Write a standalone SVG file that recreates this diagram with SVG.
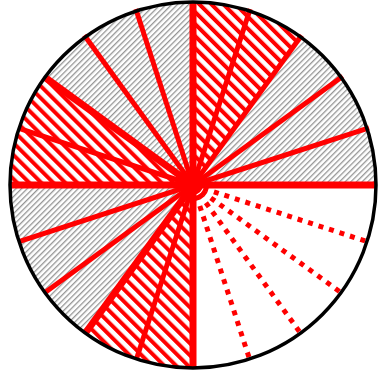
<svg xmlns="http://www.w3.org/2000/svg" width="379" height="377" viewBox="0 0 379 377">
  <defs>
    <pattern id="redHatch" patternUnits="userSpaceOnUse" width="8.5" height="10" patternTransform="rotate(-45)">
      <rect x="0" y="0" width="4" height="10" fill="#ff0000"/>
    </pattern>
    <pattern id="grayHatch" patternUnits="userSpaceOnUse" width="4" height="10" patternTransform="rotate(45)">
      <rect x="0" y="0" width="1.3" height="10" fill="#959595"/>
    </pattern>
  </defs>
  <style>
    .ray { stroke: #ff0000; stroke-width: 5; fill: none; }
    .thick { stroke-width: 7; }
    .dot { stroke: #ff0000; stroke-width: 5; stroke-dasharray: 5 6; fill: none; }
  </style>
  <rect width="379" height="377" fill="#ffffff"/>
  <g id="sectors">
    <path d="M193,185 L376,185 A183,183 0 0 0 300.57,36.95 Z" fill="url(#grayHatch)"/>
    <path d="M193,185 L300.57,36.95 A183,183 0 0 0 193,2 Z" fill="url(#redHatch)"/>
    <path d="M193,185 L193,2 A183,183 0 0 0 44.95,77.43 Z" fill="url(#grayHatch)"/>
    <path d="M193,185 L44.95,77.43 A183,183 0 0 0 10,185 Z" fill="url(#redHatch)"/>
    <path d="M193,185 L10,185 A183,183 0 0 0 85.43,333.05 Z" fill="url(#grayHatch)"/>
    <path d="M193,185 L85.43,333.05 A183,183 0 0 0 193,368 Z" fill="url(#redHatch)"/>
  </g>
  <g id="connectors">
    <line class="ray" x1="193" y1="185" x2="369.0" y2="127.8"/>
    <line class="ray" x1="193" y1="185" x2="342.7" y2="76.2"/>
    <line class="ray" x1="193" y1="185" x2="301.7" y2="35.3"/>
    <line class="ray" x1="193" y1="185" x2="250.2" y2="9.0"/>
    <line class="ray" x1="193" y1="185" x2="135.8" y2="9.0"/>
    <line class="ray" x1="193" y1="185" x2="84.3" y2="35.3"/>
    <line class="ray thick" x1="193" y1="185" x2="44.95" y2="77.43"/>
    <line class="ray" x1="193" y1="185" x2="18.96" y2="128.45"/>
    <line class="ray" x1="193" y1="185" x2="18.96" y2="241.55"/>
    <line class="ray" x1="193" y1="185" x2="44.95" y2="292.57"/>
    <line class="ray thick" x1="193" y1="185" x2="85.43" y2="333.05"/>
    <line class="ray" x1="193" y1="185" x2="136.45" y2="359.04"/>
    <line class="dot" x1="193" y1="185" x2="250.2" y2="361.0"/>
    <line class="dot" x1="193" y1="185" x2="301.7" y2="334.7"/>
    <line class="dot" x1="193" y1="185" x2="342.7" y2="293.8"/>
    <line class="dot" x1="193" y1="185" x2="369.0" y2="242.2"/>
    <line class="ray thick" x1="193" y1="185" x2="377" y2="185"/>
    <line class="ray thick" x1="193" y1="185" x2="9" y2="185"/>
    <line class="ray thick" x1="193" y1="185" x2="193" y2="2"/>
    <line class="ray thick" x1="193" y1="185" x2="193" y2="368"/>
  </g>
  <g id="hub">
    <circle cx="193" cy="185" r="9" fill="#ff0000" stroke="#ff0000" stroke-width="2"/>
  </g>
  <g id="circle">
    <circle cx="193" cy="185" r="183" fill="none" stroke="#000000" stroke-width="3.5"/>
  </g>
</svg>
